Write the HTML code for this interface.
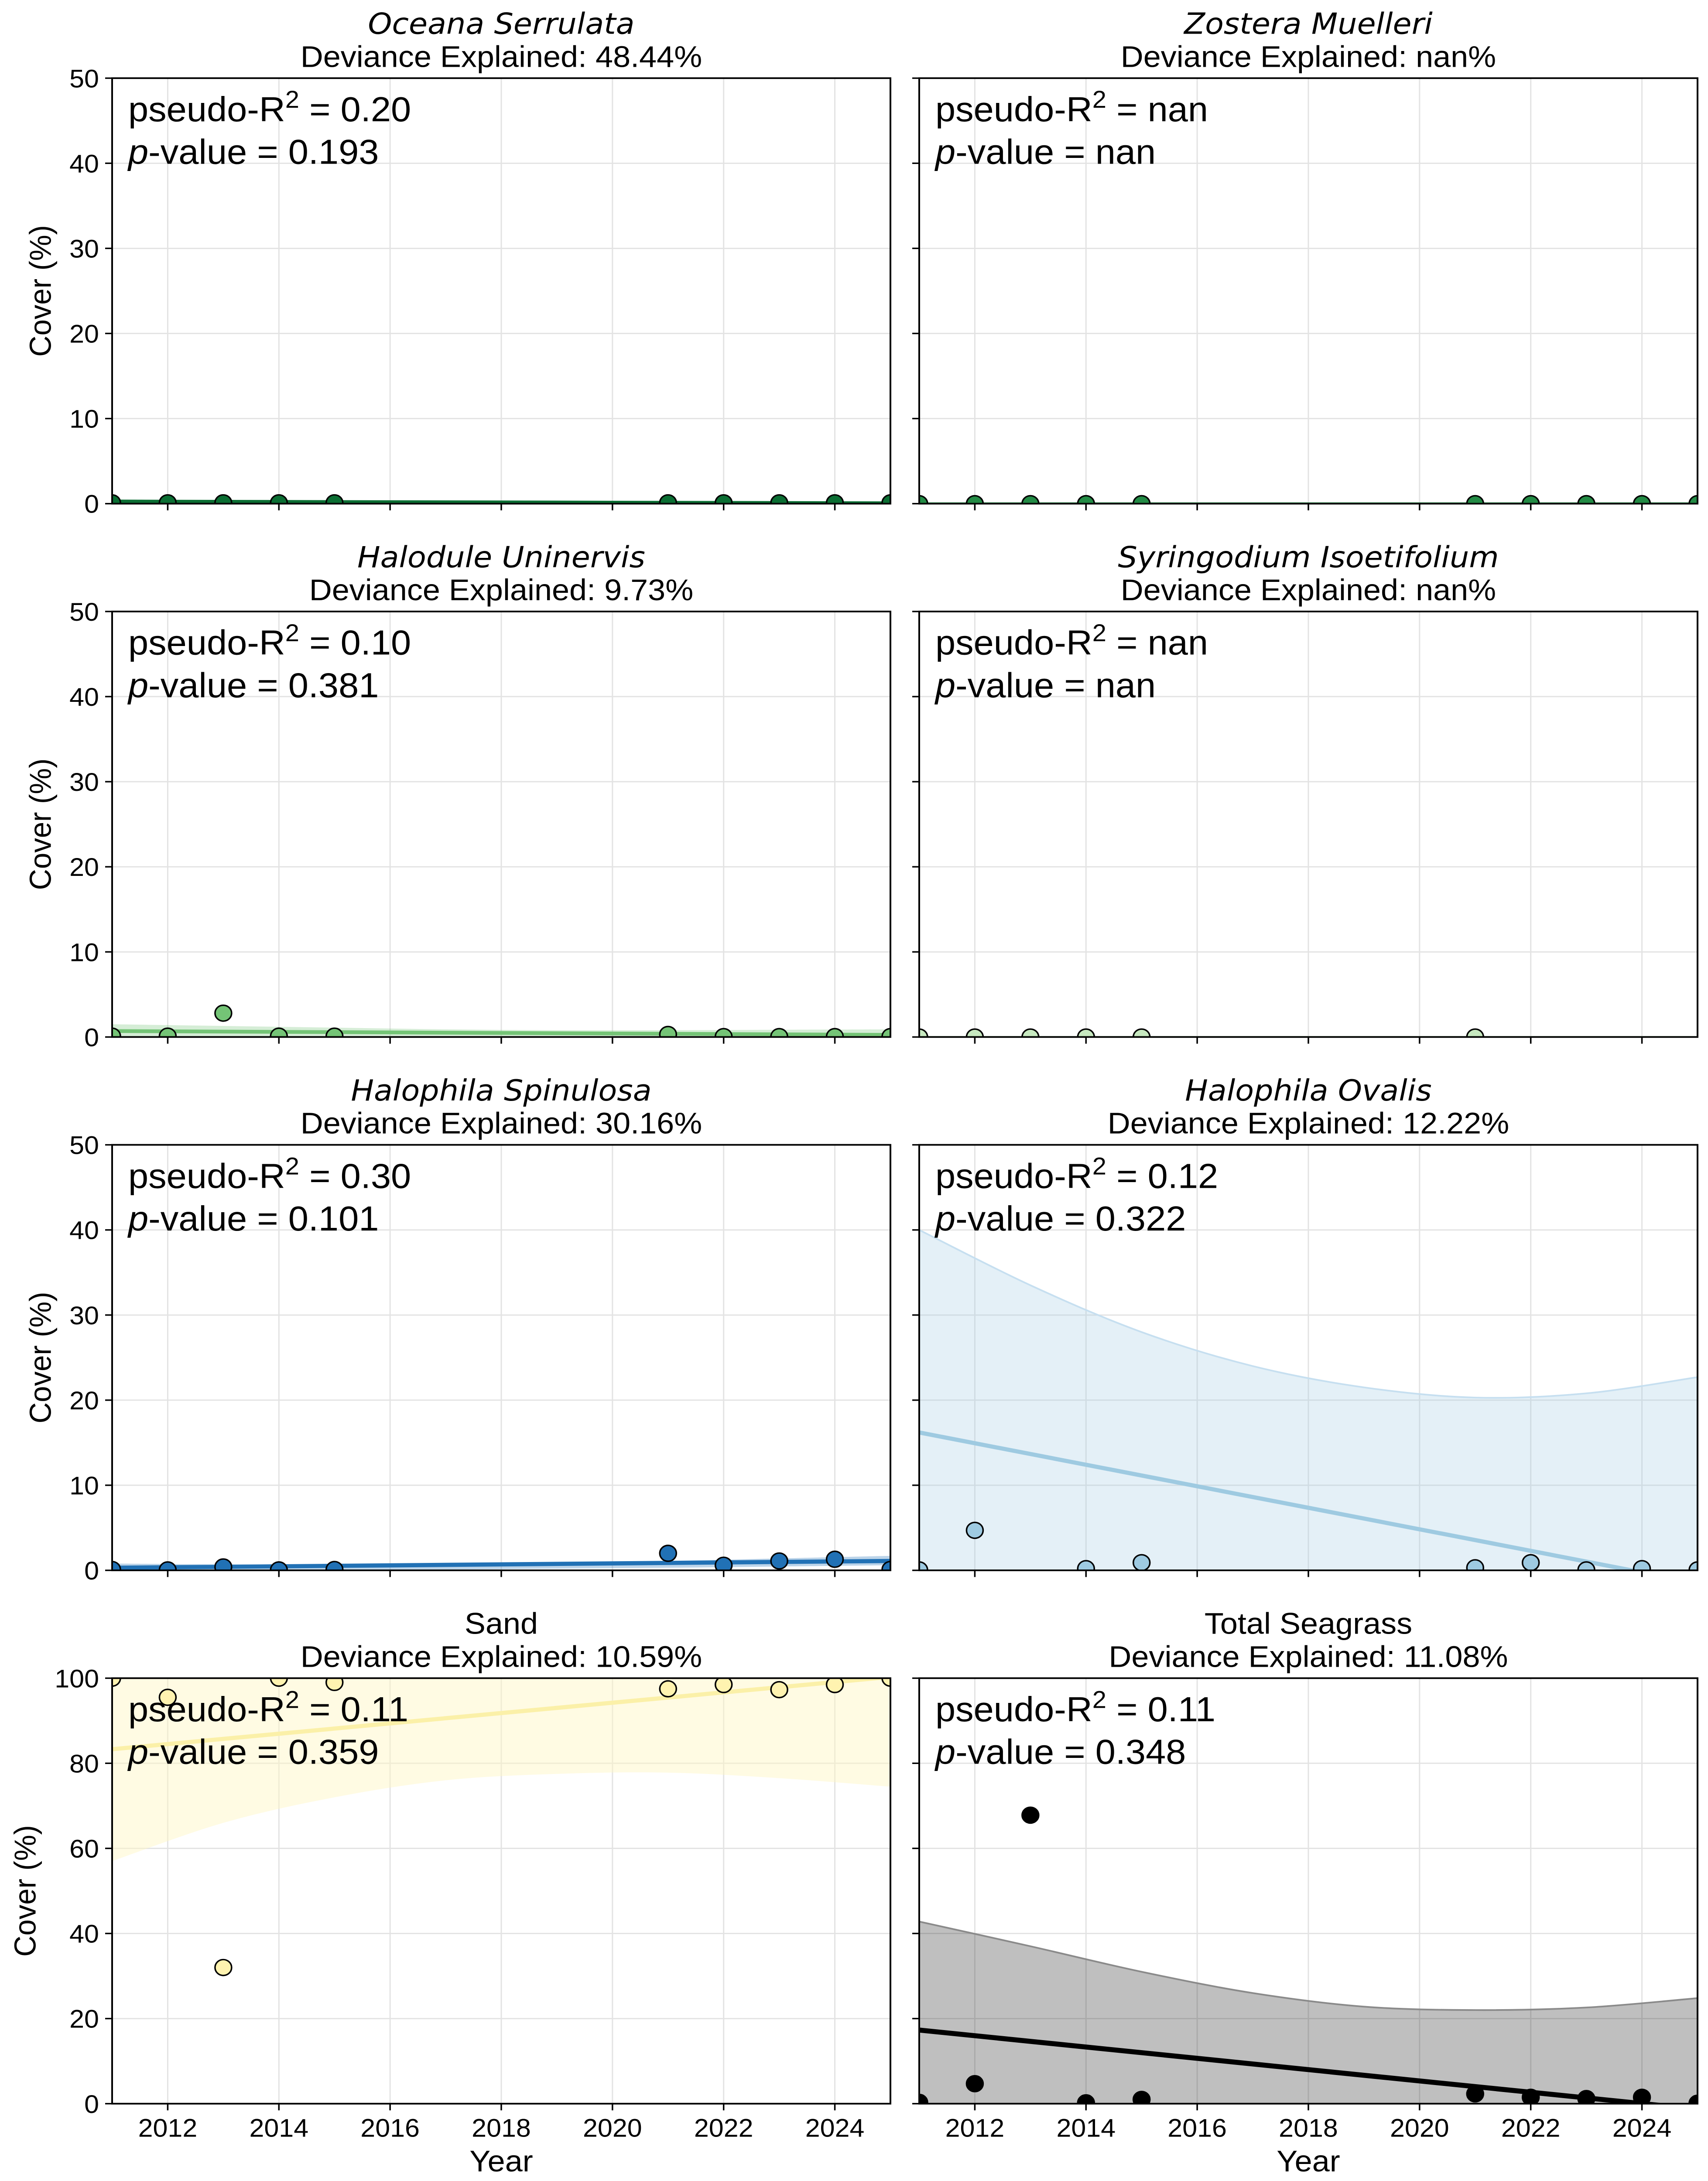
<!DOCTYPE html>
<html><head><meta charset="utf-8"><style>
html,body{margin:0;padding:0;background:#fff;width:100vw;height:100vh;overflow:hidden}
svg{display:block;width:100vw;height:100vh}
text{font-family:"Liberation Sans",Arial,sans-serif;fill:#000}
</style></head><body>
<svg id="fig" viewBox="0 0 3915 5218" preserveAspectRatio="none" xmlns="http://www.w3.org/2000/svg" overflow="hidden"></svg>
<script>
// ---- data ----
const years = [2011,2012,2013,2014,2015,2021,2022,2023,2024,2025];
const xTicks = [2012,2014,2016,2018,2020,2022,2024];
const yTicks50 = [0,10,20,30,40,50];
const yTicks100 = [0,20,40,60,80,100];
const bandX = [2011,2013,2015,2017,2019,2021,2023,2025];
const fitX = [2011,2025];

const oceanaVals = [0.1,0.1,0.1,0.1,0.1,0.1,0.1,0.1,0.1,0.1];
const oceanaFit = [0.25,0.05];
const oceanaUpper = [0.5,0.4,0.3,0.2,0.2,0.2,0.2,0.2];
const oceanaLower = [0,0,0,0,0,0,0,0];

const zosteraVals = [0,0,0,0,0,0,0,0,0,0];
const zosteraFit = [0,0];

const halodulePts = [0.1,0.1,2.8,0.1,0.1,0.3,0.05,0.05,0.05,0.05];
const haloduleFit = [0.7,0.25];
const haloduleUpper = [1.5,1.3,1.1,0.9,0.8,0.8,0.85,0.9];
const haloduleLower = [0,0,0,0,0,0,0,0];

const syringYears = [2011,2012,2013,2014,2015,2021];
const syringVals = [0,0,0,0,0,0];
const syringFit = [0,0];

const spinVals = [0.1,0.05,0.4,0.05,0.1,2.0,0.6,1.1,1.3,0.1];
const spinFit = [0.3,1.1];
const spinUpper = [0.8,0.7,0.7,0.8,0.9,1.1,1.4,1.7];
const spinLower = [0,0,0.05,0.1,0.2,0.3,0.45,0.6];

const ovalisYears = [2011,2012,2014,2015,2021,2022,2023,2024,2025];
const ovalisVals = [0.05,4.7,0.2,0.9,0.3,0.9,0.05,0.2,0.05];
const ovalisFit = [16.2,-1.5];
const ovalisUpper = [40,33.5,28,24,21.5,20.3,20.8,22.7];
const ovalisLower = [-8,-8,-8,-8,-8,-8,-8,-8];

const sandVals = [100,95.5,32,100,99,97.5,98.5,97.3,98.5,100];
const sandFit = [83.3,100.3];
const sandUpper = [110,108,107,106,106,107,110,115];
const sandLower = [57,66,72,76,77.5,77.8,76.5,74.5];

const totalVals = [0.3,4.7,67.8,0.2,1.0,2.3,1.5,1.2,1.5,0.1];
const totalFit = [17.3,-1.3];
const totalUpper = [42.8,37,31,26,22.8,22,22.6,24.8];
const totalLower = [-5,-5,-5,-5,-5,-5,-5,-5];

// ---- layout ----
const NS = "http://www.w3.org/2000/svg";
const svg = document.getElementById('fig');
const colX = [257,2107];
const rowY = [187,1463,2739,4015];
const W = 1784, H = 1018;
function mk(tag, attrs, parent){
  const e = document.createElementNS(NS, tag);
  for (const k in attrs) e.setAttribute(k, attrs[k]);
  (parent||svg).appendChild(e);
  return e;
}
function smooth(pts, start){
  let d = (start ? 'M' : 'L') + pts[0][0] + ' ' + pts[0][1];
  for (let i = 0; i < pts.length - 1; i++) {
    const p0 = pts[Math.max(0, i-1)], p1 = pts[i], p2 = pts[i+1], p3 = pts[Math.min(pts.length-1, i+2)];
    const c1x = p1[0] + (p2[0]-p0[0])/6, c1y = p1[1] + (p2[1]-p0[1])/6;
    const c2x = p2[0] - (p3[0]-p1[0])/6, c2y = p2[1] - (p3[1]-p1[1])/6;
    d += ' C' + c1x + ' ' + c1y + ' ' + c2x + ' ' + c2y + ' ' + p2[0] + ' ' + p2[1];
  }
  return d;
}

const panels = [
  {name:'oceana', title:'Oceana Serrulata', italic:true, dev:'48.44%', r2:'0.20', p:'0.193', ymax:50, yt:yTicks50,
   xs:years, vals:oceanaVals, fit:oceanaFit, up:oceanaUpper, lo:oceanaLower, col:'#0b6e33', fill:'#0b6e33', fop:0.3, lw:9},
  {name:'zostera', title:'Zostera Muelleri', italic:true, dev:'nan%', r2:'nan', p:'nan', ymax:50, yt:yTicks50,
   xs:years, vals:zosteraVals, fit:zosteraFit, up:null, lo:null, col:'#238b45', fill:'#238b45', fop:0.3, lw:6},
  {name:'halodule', title:'Halodule Uninervis', italic:true, dev:'9.73%', r2:'0.10', p:'0.381', ymax:50, yt:yTicks50,
   xs:years, vals:halodulePts, fit:haloduleFit, up:haloduleUpper, lo:haloduleLower, col:'#74c476', fill:'#74c476', fop:0.3, lw:9},
  {name:'syringodium', title:'Syringodium Isoetifolium', italic:true, dev:'nan%', r2:'nan', p:'nan', ymax:50, yt:yTicks50,
   xs:syringYears, vals:syringVals, fit:syringFit, up:null, lo:null, col:'#c7e9c0', fill:'#c7e9c0', fop:0.3, lw:4, lineCol:'#74c476'},
  {name:'spinulosa', title:'Halophila Spinulosa', italic:true, dev:'30.16%', r2:'0.30', p:'0.101', ymax:50, yt:yTicks50,
   xs:years, vals:spinVals, fit:spinFit, up:spinUpper, lo:spinLower, col:'#2171b5', fill:'#2171b5', fop:0.3, lw:10},
  {name:'ovalis', title:'Halophila Ovalis', italic:true, dev:'12.22%', r2:'0.12', p:'0.322', ymax:50, yt:yTicks50,
   xs:ovalisYears, vals:ovalisVals, fit:ovalisFit, up:ovalisUpper, lo:ovalisLower, col:'#9ecae1', fill:'#9ecae1', fop:0.28, lw:10, edge:'#c6dff0'},
  {name:'sand', title:'Sand', italic:false, dev:'10.59%', r2:'0.11', p:'0.359', ymax:100, yt:yTicks100,
   xs:years, vals:sandVals, fit:sandFit, up:sandUpper, lo:sandLower, col:'#fff3b0', fill:'#fff6c0', fop:0.45, lw:10, lineCol:'#fbf0a8', edge:'#fbf3cf'},
  {name:'total', title:'Total Seagrass', italic:false, dev:'11.08%', r2:'0.11', p:'0.348', ymax:100, yt:yTicks100,
   xs:years, vals:totalVals, fit:totalFit, up:totalUpper, lo:totalLower, col:'#000000', fill:'#000000', fop:0.25, lw:12, edge:'#8a8a8a'}
];

panels.forEach((P, i) => {
  const c = i % 2, r = Math.floor(i / 2);
  const x0 = colX[c], y0 = rowY[r];
  const xs = v => x0 + (v - 2011) / 14 * W;
  const ys = v => y0 + H - v / P.ymax * H;
  const g = mk('g', {});
  
  
  const clipId = 'clip' + i;
  const cp = mk('clipPath', {id: clipId}, g);
  mk('rect', {x:x0, y:y0, width:W, height:H}, cp);

  const grid = mk('g', {stroke:'#e3e3e3', 'stroke-width':3}, g);
  
  
  xTicks.forEach(t => mk('line', {x1:xs(t), x2:xs(t), y1:y0, y2:y0+H}, grid));
  P.yt.forEach(t => mk('line', {x1:x0, x2:x0+W, y1:ys(t), y2:ys(t)}, grid));

  const plot = mk('g', {'clip-path':'url(#' + clipId + ')'}, g);
  if (P.up) {
    const upPts = bandX.map((x, k) => [xs(x), ys(P.up[k])]);
    const loPts = bandX.map((x, k) => [xs(x), ys(P.lo[k])]).reverse();
    const d = smooth(upPts, true) + ' ' + smooth(loPts, false) + ' Z';
    const band = mk('path', {d:d, fill:P.fill, 'fill-opacity':P.fop, stroke:'none'}, plot);
    
    
    if (P.edge) {
      mk('path', {d:smooth(upPts, true), fill:'none', stroke:P.edge, 'stroke-width':4}, plot);
    }
  }
  const fl = mk('line', {x1:xs(fitX[0]), y1:ys(P.fit[0]), x2:xs(fitX[1]), y2:ys(P.fit[1]),
    stroke:P.lineCol || P.col, 'stroke-width':P.lw}, plot);
  
  
  const pts = mk('g', {}, plot);
  P.xs.forEach((x, k) => {
    const cEl = mk('circle', {cx:xs(x), cy:ys(P.vals[k]), r:19, fill:P.col, stroke:'#000', 'stroke-width':3.5}, pts);
    
    
  });

  mk('rect', {x:x0, y:y0, width:W, height:H, fill:'none', stroke:'#000', 'stroke-width':4}, g);
  P.yt.forEach(t => {
    mk('line', {x1:x0-16, x2:x0, y1:ys(t), y2:ys(t), stroke:'#000', 'stroke-width':3.5}, g);
    if (c === 0) {
      const tl = mk('text', {x:x0-30, y:ys(t)+22, 'font-size':61, 'text-anchor':'end'}, g);
      tl.textContent = t;
      
      
    }
  });
  xTicks.forEach(t => {
    mk('line', {x1:xs(t), x2:xs(t), y1:y0+H, y2:y0+H+16, stroke:'#000', 'stroke-width':3.5}, g);
    if (r === 3) {
      const tl = mk('text', {x:xs(t), y:y0+H+79, 'font-size':61, 'text-anchor':'middle'}, g);
      tl.textContent = t;
      
      
    }
  });
  const t1 = mk('text', {x:x0+W/2, y:y0-106, 'font-size':72, 'text-anchor':'middle'}, g);
  if (P.italic) { t1.setAttribute('font-style', 'italic'); t1.setAttribute('style', 'font-family:"DejaVu Sans",sans-serif;font-size:70px'); }
  t1.textContent = P.title;
  
  
  const t2 = mk('text', {x:x0+W/2, y:y0-27, 'font-size':72, 'text-anchor':'middle'}, g);
  t2.textContent = 'Deviance Explained: ' + P.dev;
  
  
  const a1 = mk('text', {x:x0+37, y:y0+103, 'font-size':83}, g);
  a1.innerHTML = 'pseudo-R<tspan dy="-32" font-size="58">2</tspan><tspan dy="32"> = ' + P.r2 + '</tspan>';
  
  
  const a2 = mk('text', {x:x0+37, y:y0+205, 'font-size':83}, g);
  a2.innerHTML = '<tspan font-style="italic">p</tspan>-value = ' + P.p;
  
  
  if (c === 0) {
    const cx = r === 3 ? 63 : 98, cy = y0 + H/2;
    const yl = mk('text', {x:cx, y:cy, 'font-size':70, 'text-anchor':'middle', 'dominant-baseline':'middle',
      transform:'rotate(-90 ' + cx + ' ' + cy + ')'}, g);
    yl.textContent = 'Cover (%)';
    
    
  }
  if (r === 3) {
    const xl = mk('text', {x:x0+W/2, y:5195, 'font-size':72, 'text-anchor':'middle'}, g);
    xl.textContent = 'Year';
    
    
  }
});
</script>
</body></html>
